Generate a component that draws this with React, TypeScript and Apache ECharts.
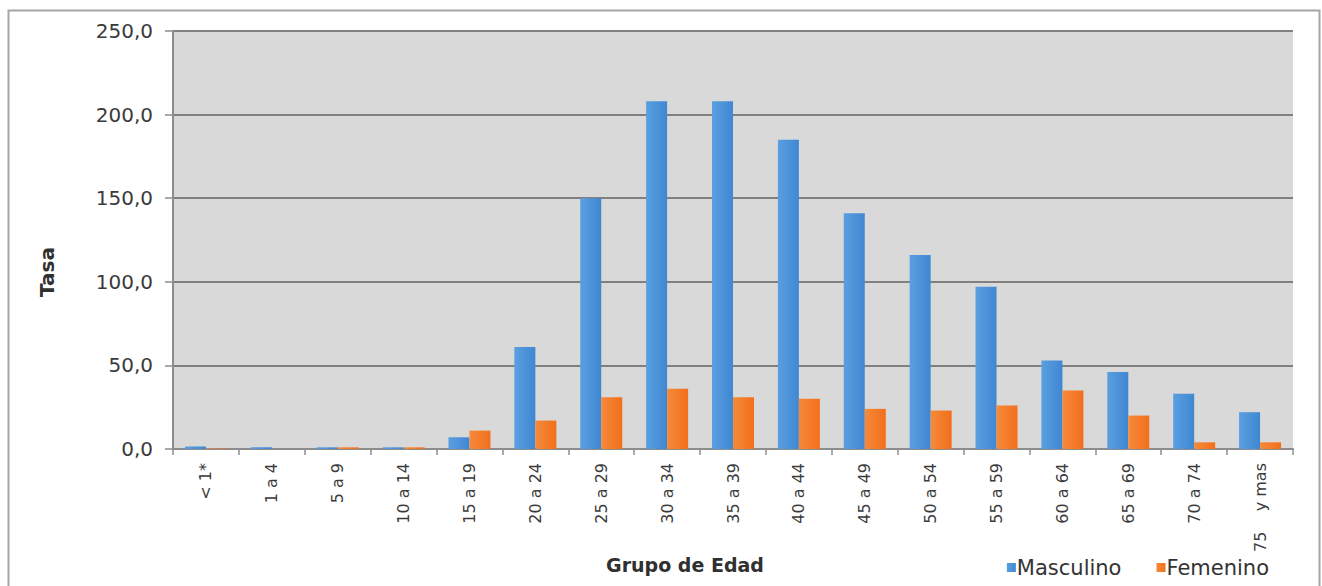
import React, { useEffect, useRef } from "react";
import * as echarts from "echarts";

const categories = ["< 1*", "1 a 4", "5 a 9", "10 a 14", "15 a 19", "20 a 24", "25 a 29", "30 a 34", "35 a 39", "40 a 44", "45 a 49", "50 a 54", "55 a 59", "60 a 64", "65 a 69", "70 a 74", "75    y mas"];
const masculino = [1.5, 1.0, 1.0, 1.0, 7.0, 61.0, 150.0, 208.0, 208.0, 185.0, 141.0, 116.0, 97.0, 53.0, 46.0, 33.0, 22.0];
const femenino = [0.3, 0.0, 1.0, 1.0, 11.0, 17.0, 31.0, 36.0, 31.0, 30.0, 24.0, 23.0, 26.0, 35.0, 20.0, 4.0, 4.0];
const seriesNames = ["Masculino", "Femenino"];
const yTicks = { min: 0, max: 250, interval: 50 };

const FONT = "DejaVu Sans, Liberation Sans, Arial, sans-serif";

export default function App() {
  const ref = useRef<HTMLDivElement>(null);
  useEffect(() => {
    if (!ref.current) return;
    const chart = echarts.init(ref.current, null, { renderer: "svg" });
    chart.setOption({
      animation: false,
      backgroundColor: "#ffffff",
      textStyle: { fontFamily: FONT },
      grid: {
        left: 173,
        right: 29,
        top: 31,
        bottom: 137,
        show: true,
        backgroundColor: "#d9d9d9",
        borderWidth: 0,
      },
      legend: {
        data: seriesNames,
        right: 48,
        top: 552,
        icon: "rect",
        itemWidth: 9,
        itemHeight: 9,
        itemGap: 35,
        textStyle: { fontSize: 21, color: "#333333", fontFamily: FONT, padding: [0, 0, 0, -4] },
      },
      xAxis: {
        type: "category",
        data: categories,
        axisLine: { lineStyle: { color: "#8c8c8c", width: 2 } },
        axisTick: { show: true, length: 6, lineStyle: { color: "#8c8c8c", width: 1.5 } },
        axisLabel: {
          rotate: 90,
          fontSize: 16,
          color: "#3a3a3a",
          margin: 14,
          fontFamily: FONT,
          interval: 0,
        },
      },
      yAxis: {
        type: "value",
        min: yTicks.min,
        max: yTicks.max,
        interval: yTicks.interval,
        axisLine: { show: true, lineStyle: { color: "#8c8c8c", width: 2 } },
        axisTick: { show: true, length: 8, lineStyle: { color: "#8c8c8c", width: 1.5 } },
        axisLabel: {
          fontSize: 20,
          color: "#3a3a3a",
          margin: 20,
          fontFamily: FONT,
          formatter: (v: number) => v.toFixed(1).replace(".", ","),
        },
        splitLine: { show: true, lineStyle: { color: "#808080", width: 2 } },
      },
      series: [
        {
          name: seriesNames[0],
          type: "bar",
          data: masculino,
          barWidth: 21,
          barGap: "0%",
          itemStyle: {
            color: new echarts.graphic.LinearGradient(0, 0, 1, 0, [
              { offset: 0, color: "#5a9fe0" },
              { offset: 1, color: "#3f87d2" },
            ]),
          },
        },
        {
          name: seriesNames[1],
          type: "bar",
          data: femenino,
          barWidth: 21,
          itemStyle: {
            color: new echarts.graphic.LinearGradient(0, 0, 1, 0, [
              { offset: 0, color: "#f58a3a" },
              { offset: 1, color: "#f26f1c" },
            ]),
          },
        },
      ],
      graphic: [
        {
          type: "rect",
          shape: { x: 8.5, y: 10.5, width: 1311, height: 600 },
          style: { fill: "none", stroke: "#a6a6a6", lineWidth: 2 },
          silent: true,
        },
        {
          type: "text",
          x: 685,
          y: 565,
          style: {
            text: "Grupo de Edad",
            fontSize: 19,
            fontWeight: "bold",
            fontFamily: FONT,
            fill: "#303030",
            align: "center",
            verticalAlign: "middle",
          },
        },
        {
          type: "text",
          x: 47,
          y: 272,
          rotation: Math.PI / 2,
          style: {
            text: "Tasa",
            fontSize: 20,
            fontWeight: "bold",
            fontFamily: FONT,
            fill: "#303030",
            align: "center",
            verticalAlign: "middle",
          },
        },
      ],
    });
    return () => chart.dispose();
  }, []);
  return (
    <div
      ref={ref}
      style={{ position: "absolute", left: 0, top: 0, width: 1322, height: 586 }}
    />
  );
}
